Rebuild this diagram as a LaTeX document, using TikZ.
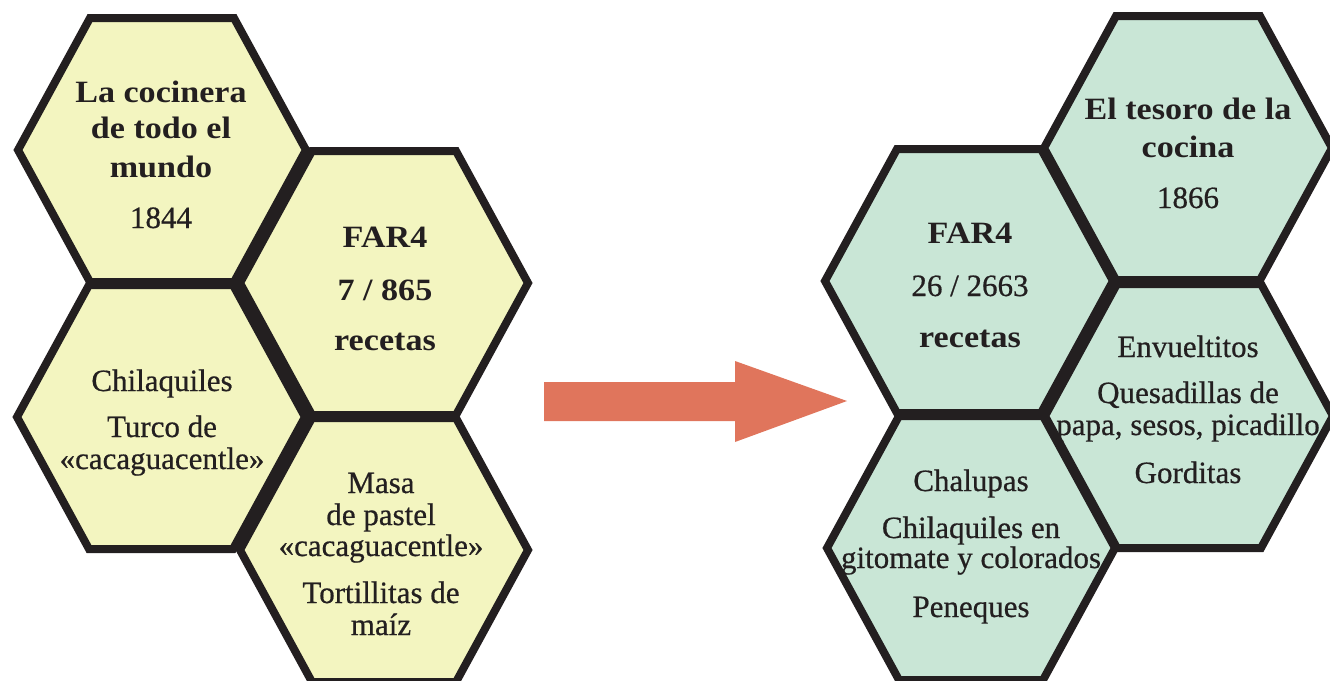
\documentclass[tikz,border=0pt]{standalone}
\usepackage{fontspec}
\setmainfont{Liberation Serif}[UprightFeatures={FakeBold=0.6},BoldFeatures={FakeStretch=1.1}]
\definecolor{ylw}{RGB}{243,245,192}
\definecolor{mint}{RGB}{201,230,214}
\definecolor{ink}{RGB}{35,31,32}
\definecolor{arrowc}{RGB}{224,117,92}
\begin{document}
\begin{tikzpicture}[x=1pt,y=-1pt,
  hexa/.pic={\path[pic actions] (-144,0) -- (-72,-132) -- (72,-132) -- (144,0) -- (72,132) -- (-72,132) -- cycle;},
  rim/.style={draw=ink,line width=8pt,line join=miter},
  txt/.style={anchor=base,inner sep=0pt,text=ink,font=\fontsize{31}{32}\selectfont},
  ttl/.style={txt,font=\fontsize{31}{32}\selectfont\bfseries}]
\useasboundingbox (0,0) rectangle (1330,680);
\clip (0,0) rectangle (1330,680);

% honeycomb fills: 1844 edition (yellow) and 1866 edition (mint)
\foreach \cx/\cy in {162/150,384/283,161/417,384/550}
  \pic[fill=ylw] at (\cx,\cy) {hexa};
\foreach \cx/\cy in {969/281,1188/148,1189/416,971/548}
  \pic[fill=mint] at (\cx,\cy) {hexa};

% La cocinera de todo el mundo
\node[ttl] (a1) at (161,102) {La cocinera};
\node[ttl] (a2) at (161,138) {de todo el};
\node[ttl] (a3) at (161,177) {mundo};
\node[txt] (a4) at (161,228) {1844};

\node[ttl] (b1) at (385,247) {FAR4};
\node[ttl] (b2) at (385,300) {7 / 865};
\node[ttl] (b3) at (385,350) {recetas};

\node[txt] (c1) at (162,391) {Chilaquiles};
\node[txt] (c2) at (162,437) {Turco de};
\node[txt] (c3) at (162,469) {«cacaguacentle»};

\node[txt] (d1) at (381,493) {Masa};
\node[txt] (d2) at (381,525) {de pastel};
\node[txt] (d3) at (381,556) {«cacaguacentle»};
\node[txt] (d4) at (381,603) {Tortillitas de};
\node[txt] (d5) at (381,635) {maíz};

% El tesoro de la cocina
\node[ttl] (e1) at (970,243) {FAR4};
\node[txt] (e2) at (970,296) {26 / 2663};
\node[ttl] (e3) at (970,347) {recetas};

\node[ttl] (f1) at (1188,119) {El tesoro de la};
\node[ttl] (f2) at (1188,157) {cocina};
\node[txt] (f3) at (1188,208) {1866};

\node[txt] (g1) at (1188,357) {Envueltitos};
\node[txt] (g2) at (1188,403) {Quesadillas de};
\node[txt] (g3) at (1188,435) {papa, sesos, picadillo};
\node[txt] (g4) at (1188,483) {Gorditas};

\node[txt] (h1) at (971,491) {Chalupas};
\node[txt] (h2) at (971,538) {Chilaquiles en};
\node[txt] (h3) at (971,568) {gitomate y colorados};
\node[txt] (h4) at (971,617) {Peneques};

% outlines on top of the text
\foreach \cx/\cy in {162/150,384/283,161/417,384/550,969/281,1188/148,1189/416,971/548}
  \pic[rim] at (\cx,\cy) {hexa};

% block arrow between the two editions
\fill[arrowc] (544,382) -- (735,382) -- (735,361) -- (847,401) -- (735,442) -- (735,421) -- (544,421) -- cycle;
\end{tikzpicture}
\end{document}
